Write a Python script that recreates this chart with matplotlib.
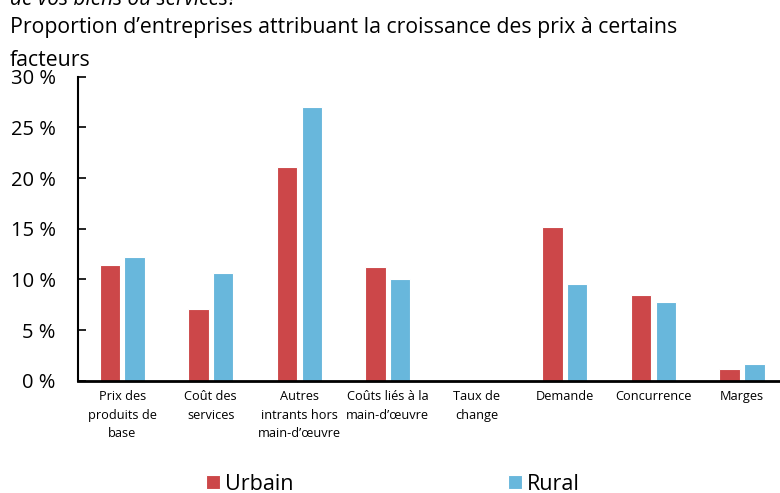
import matplotlib.pyplot as plt
import numpy as np

categories = ["Prix des\nproduits de\nbase", "Coût des\nservices", "Autres\nintrants hors\nmain-d’œuvre",
              "Coûts liés à la\nmain-d’œuvre", "Taux de\nchange", "Demande", "Concurrence", "Marges"]
urbain = [11.4, 7.1, 21.1, 11.2, 0.0, 15.2, 8.5, 1.2]
rural = [12.2, 10.6, 27.0, 10.0, 0.0, 9.5, 7.8, 1.6]
yticks = [0, 5, 10, 15, 20, 25, 30]

red = "#CC4749"
blue = "#68B7DC"
font = "Open Sans"

fig = plt.figure(figsize=(7.8, 4.93), dpi=100)
ax = fig.add_axes([0.1, 0.2278, 0.9, 0.6166])

x = np.arange(len(categories))
w = 0.23
ax.bar(x - 0.14, urbain, w, color=red, edgecolor="white", linewidth=0.8, label="Urbain")
ax.bar(x + 0.14, rural, w, color=blue, edgecolor="white", linewidth=0.8, label="Rural")

ax.set_ylim(0, 30)
ax.set_xlim(-0.5, 7.43)
ax.set_yticks(yticks)
ax.set_yticklabels([f"{v} %" for v in yticks], fontsize=14.5, family=font)
ax.set_xticks(x)
ax.set_xticklabels(categories, fontsize=9.2, family=font, linespacing=1.55, va="top")
ax.tick_params(axis="x", length=0, pad=7)
ax.tick_params(axis="y", direction="in", length=6, width=1.2, pad=16)
for s in ["top", "right"]:
    ax.spines[s].set_visible(False)
ax.spines["left"].set_linewidth(1.5)
ax.spines["bottom"].set_linewidth(2)

fig.text(0.013, 1 - 5 / 493, "de vos biens ou services?", fontsize=15, style="italic",
         family=font, va="baseline")
fig.text(0.013, 1 - 33 / 493, "Proportion d’entreprises attribuant la croissance des prix à certains",
         fontsize=15.3, family=font, va="baseline")
fig.text(0.013, 1 - 66 / 493, "facteurs", fontsize=15.3, family=font, va="baseline")

fig.legend(loc="center", bbox_to_anchor=(393 / 780, 1 - 484 / 493), ncol=2, frameon=False,
           prop={"family": font, "size": 15.5}, handlelength=0.65, handleheight=0.65,
           handletextpad=0.2, columnspacing=10.0)

fig.savefig("out.png", dpi=100)
